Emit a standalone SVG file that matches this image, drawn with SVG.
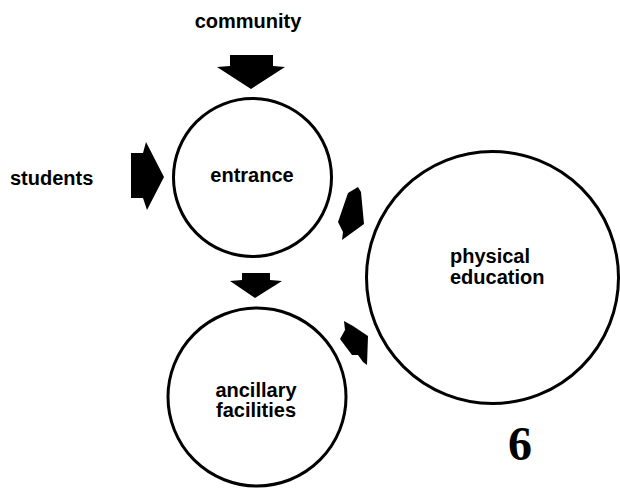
<svg xmlns="http://www.w3.org/2000/svg" width="620" height="488" viewBox="0 0 620 488">
  <style>
    .node { fill: none; stroke: #000; stroke-width: 3; }
    .lbl { font-family: "Liberation Sans", Arial, sans-serif; font-weight: bold; font-size: 20px; fill: #000; }
    .arrow { fill: #000; stroke: none; }
    .num { font-family: "Liberation Serif", "Times New Roman", serif; font-weight: bold; font-size: 48px; fill: #000; }
  </style>
  <rect width="620" height="488" fill="#fff"/>

  <g id="community">
    <text class="lbl" x="248" y="28" text-anchor="middle">community</text>
  </g>
  <g id="students">
    <text class="lbl" x="10" y="185">students</text>
  </g>
  <g id="entrance">
    <circle class="node" cx="252.5" cy="177.5" r="79"/>
    <text class="lbl" x="252" y="182" text-anchor="middle">entrance</text>
  </g>
  <g id="physical-education">
    <circle class="node" cx="492.5" cy="277.5" r="126"/>
    <text class="lbl" x="450" y="263">physical</text>
    <text class="lbl" x="450" y="284">education</text>
  </g>
  <g id="ancillary-facilities">
    <circle class="node" cx="257" cy="397" r="89"/>
    <text class="lbl" x="256" y="397" text-anchor="middle">ancillary</text>
    <text class="lbl" x="256" y="417" text-anchor="middle">facilities</text>
  </g>
  <g id="page-number">
    <text class="num" x="508" y="460">6</text>
  </g>

  <g id="connectors">
    <polygon class="arrow" points="230,55 273,55 273,66 285,67 251,89 217,67 230,66"/>
    <polygon class="arrow" points="131,153 143,153 146,142 164,177 147,210 143,198 131,198"/>
    <polygon class="arrow" points="242,273 270,273 270,280 282,281 255,298 230,281 242,280"/>
    <polygon class="arrow" points="348,193 358,187 361,192 364,224 342,240 343,232 338,222"/>
    <polygon class="arrow" points="344,321 353,326 368,336 367,365 363,362 358,355 352,355 340,339 345,330"/>
  </g>
</svg>
